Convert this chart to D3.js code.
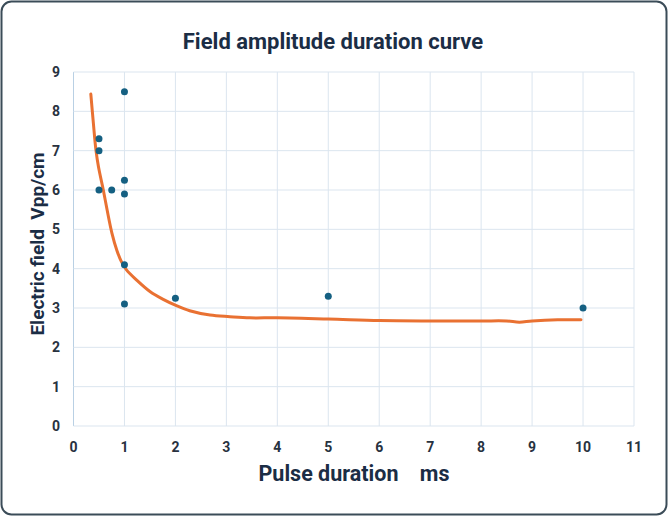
<!DOCTYPE html>
<html>
<head>
<script src="https://d3js.org/d3.v7.min.js"></script>
<style>
  body { margin: 0; background: #fff; }
  svg { display: block; }
</style>
</head>
<body>
<svg width="668" height="517"></svg>
<script>
// measured points (pulse duration ms, field Vpp/cm)
const pointX = [1, 0.5, 0.5, 0.5, 0.75, 1, 1, 1, 1, 2, 5, 10];
const pointY = [8.5, 7.3, 7.0, 6.0, 6.0, 6.25, 5.9, 4.1, 3.1, 3.25, 3.3, 3.0];

// fitted curve
const curveX = [0.34, 0.39, 0.44, 0.49, 0.585, 0.66, 0.755, 0.85, 0.94, 1.04, 1.24, 1.5, 1.76, 2.02, 2.28, 2.68, 3.07, 3.46, 4, 5, 6, 7, 8, 8.5, 8.75, 9, 9.5, 9.96];
const curveY = [8.44, 7.7, 7.02, 6.59, 6.0, 5.49, 4.9, 4.47, 4.18, 3.97, 3.71, 3.42, 3.22, 3.06, 2.93, 2.82, 2.78, 2.75, 2.75, 2.72, 2.68, 2.67, 2.67, 2.67, 2.64, 2.67, 2.70, 2.70];

const xTicks = [0, 1, 2, 3, 4, 5, 6, 7, 8, 9, 10, 11];
const yTicks = [0, 1, 2, 3, 4, 5, 6, 7, 8, 9];

const svg = d3.select("svg");
const font = "'Roboto', sans-serif";
const ink = "#1b2d45";

svg.append("rect")
   .attr("x", 1.5).attr("y", 1.5)
   .attr("width", 665).attr("height", 513)
   .attr("rx", 10)
   .attr("fill", "#fff")
   .attr("stroke", "#3b4c58")
   .attr("stroke-width", 2);

const x = d3.scaleLinear().domain([0, 11]).range([73.5, 634]);
const y = d3.scaleLinear().domain([0, 9]).range([426, 72]);

// grid
svg.append("g").selectAll("line").data(xTicks)
   .join("line")
   .attr("x1", d => x(d)).attr("x2", d => x(d))
   .attr("y1", y(0)).attr("y2", y(9))
   .attr("stroke", d => d === 0 ? "#b9d0e4" : "#dbe5ef")
   .attr("stroke-width", 1);

svg.append("g").selectAll("line").data(yTicks)
   .join("line")
   .attr("x1", x(0)).attr("x2", x(11))
   .attr("y1", d => y(d)).attr("y2", d => y(d))
   .attr("stroke", "#dbe5ef")
   .attr("stroke-width", 1);

// tick labels
svg.append("g").selectAll("text").data(xTicks)
   .join("text")
   .attr("x", d => x(d)).attr("y", 452)
   .attr("text-anchor", "middle")
   .attr("font-family", font).attr("font-weight", "bold").attr("font-size", 14)
   .attr("fill", "#28323f")
   .text(d => d);

svg.append("g").selectAll("text").data(yTicks)
   .join("text")
   .attr("x", 60).attr("y", d => y(d) + 5)
   .attr("text-anchor", "end")
   .attr("font-family", font).attr("font-weight", "bold").attr("font-size", 14)
   .attr("fill", "#28323f")
   .text(d => d);

// curve
const curve = curveX.map((d, i) => [d, curveY[i]]);
svg.append("path")
   .datum(curve)
   .attr("d", d3.line().x(d => x(d[0])).y(d => y(d[1])).curve(d3.curveCatmullRom))
   .attr("fill", "none")
   .attr("stroke", "#e97132")
   .attr("stroke-width", 3)
   .attr("stroke-linecap", "round");

// points
svg.append("g").selectAll("circle").data(pointX)
   .join("circle")
   .attr("cx", d => x(d))
   .attr("cy", (d, i) => y(pointY[i]))
   .attr("r", 3.5)
   .attr("fill", "#156082");

// titles
svg.append("text")
   .attr("x", 333).attr("y", 49)
   .attr("text-anchor", "middle")
   .attr("font-family", font).attr("font-weight", "bold").attr("font-size", 22)
   .attr("fill", ink)
   .text("Field amplitude duration curve");

svg.append("text")
   .attr("x", 354).attr("y", 481)
   .attr("text-anchor", "middle")
   .attr("font-family", font).attr("font-weight", "bold").attr("font-size", 21.5)
   .attr("fill", ink)
   .style("white-space", "pre")
   .text("Pulse duration    ms");

svg.append("text")
   .attr("transform", "translate(44,244) rotate(-90)")
   .attr("text-anchor", "middle")
   .attr("font-family", font).attr("font-weight", "bold").attr("font-size", 19)
   .attr("fill", ink)
   .style("white-space", "pre")
   .text("Electric field  Vpp/cm");
</script>
</body>
</html>
